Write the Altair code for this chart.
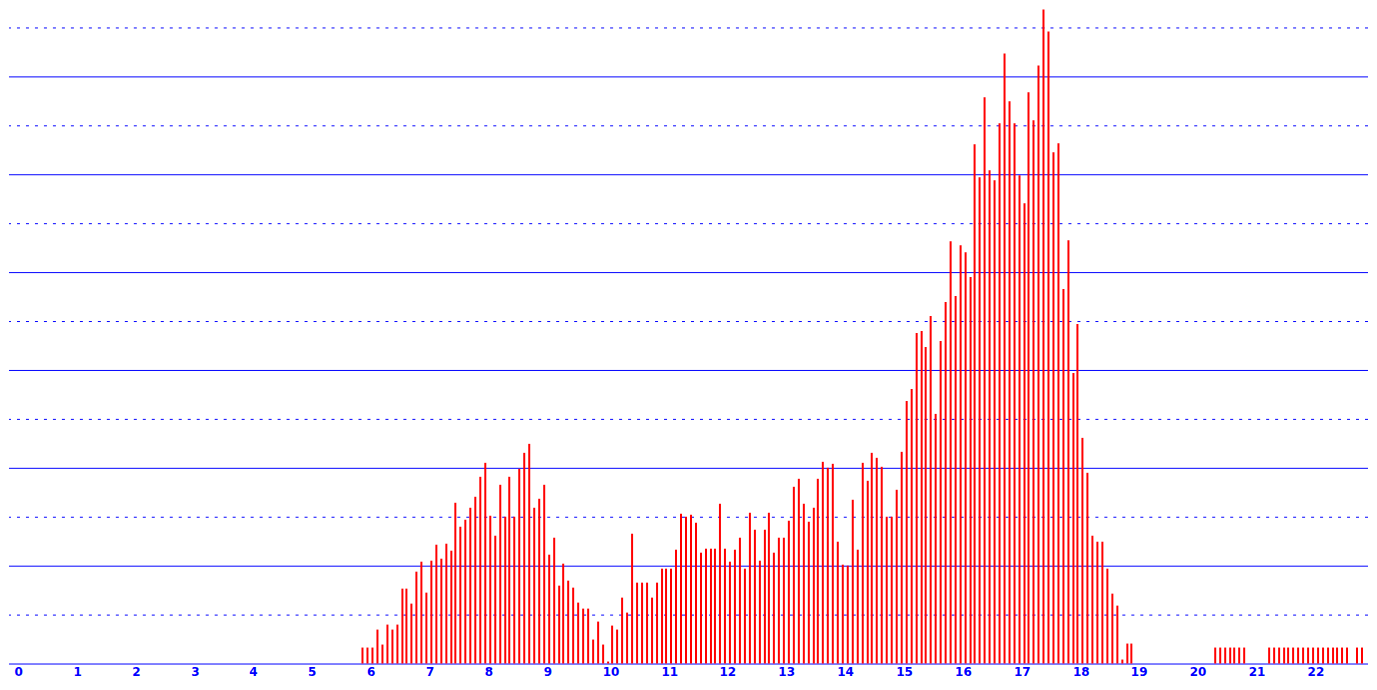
import altair as alt
import pandas as pd

# ---- data -------------------------------------------------------------
# contiguous run of 5-minute bins starting at 05:55
first_bar = "5:55"
bin_minutes = 5
day_values = [
    1.6, 1.6, 1.6, 3.5, 1.9, 4.0, 3.5, 4.0, 7.7, 7.7,
    6.1, 9.4, 10.4, 7.2, 10.5, 12.1, 10.7, 12.2, 11.5, 16.4,
    14.0, 14.7, 15.9, 17.0, 19.1, 20.5, 15.1, 13.1, 18.3, 15.0,
    19.1, 15.0, 19.9, 21.5, 22.4, 15.9, 16.8, 18.3, 11.1, 12.9,
    8.0, 10.2, 8.5, 7.8, 6.2, 5.6, 5.6, 2.5, 4.3, 1.9,
    0.2, 3.9, 3.5, 6.7, 5.2, 13.3, 8.3, 8.3, 8.3, 6.7,
    8.3, 9.7, 9.7, 9.7, 11.6, 15.3, 15.0, 15.2, 14.4, 11.3,
    11.7, 11.7, 11.7, 16.3, 11.7, 10.4, 11.6, 12.9, 9.7, 15.4,
    13.7, 10.5, 13.7, 15.4, 11.3, 12.9, 12.9, 14.6, 18.1, 18.9,
    16.3, 14.5, 15.9, 18.9, 20.6, 20.0, 20.4, 12.5, 10.1, 10.0,
    16.7, 11.6, 20.5, 18.7, 21.5, 21.0, 20.1, 15.0, 15.0, 17.8,
    21.6, 26.8, 28.1, 33.8, 34.0, 32.3, 35.5, 25.5, 33.0, 36.9,
    43.2, 37.6, 42.8, 42.0, 39.5, 53.1, 49.7, 57.9, 50.4, 49.4,
    55.2, 62.3, 57.4, 55.2, 49.9, 47.0, 58.4, 55.5, 61.1, 66.8,
    64.6, 52.2, 53.2, 38.3, 43.3, 29.7, 34.7, 23.1, 19.5, 13.1,
    12.4, 12.4, 9.7, 7.1, 5.9, 0.4, 2.0, 2.0,
]

# isolated evening bins
evening_times = [
    "20:25", "20:30", "20:35", "20:40", "20:45", "20:50", "20:55",
    "21:20", "21:25", "21:30", "21:35", "21:40", "21:45", "21:50", "21:55",
    "22:00", "22:05", "22:10", "22:15", "22:20", "22:25", "22:30", "22:35",
    "22:40", "22:50", "22:55",
]
evening_values = [
    1.6, 1.6, 1.6, 1.6, 1.6, 1.6, 1.6,
    1.6, 1.6, 1.6, 1.6, 1.6, 1.6, 1.6, 1.6,
    1.6, 1.6, 1.6, 1.6, 1.6, 1.6, 1.6, 1.6,
    1.6, 1.6, 1.6,
]

hour_ticks = list(range(0, 23))
solid_levels = [0, 10, 20, 30, 40, 50, 60]
dotted_levels = [5, 15, 25, 35, 45, 55, 65]


def to_minutes(t):
    h, m = t.split(":")
    return int(h) * 60 + int(m)


start = to_minutes(first_bar)
rows = [{"minute": start + i * bin_minutes, "value": v} for i, v in enumerate(day_values)]
rows += [{"minute": to_minutes(t), "value": v} for t, v in zip(evening_times, evening_values)]
bars_df = pd.DataFrame(rows)

BLUE = "#0000FF"
RED = "#FF0000"

xscale = alt.Scale(domain=[0, 1377], nice=False, zero=False, round=True)
yscale = alt.Scale(domain=[0, 66.94], nice=False, zero=True, round=True)

dotted = alt.Chart(pd.DataFrame({"level": dotted_levels})).mark_rule(
    color=BLUE, strokeWidth=1, strokeDash=[3, 6], yOffset=0.5
).encode(y=alt.Y("level:Q", scale=yscale, axis=None))

solid = alt.Chart(pd.DataFrame({"level": solid_levels})).mark_rule(
    color=BLUE, strokeWidth=1, yOffset=0.5
).encode(y=alt.Y("level:Q", scale=yscale, axis=None))

bars = alt.Chart(bars_df).transform_calculate(
    mid="datum.minute + 1"
).mark_bar(color=RED, width=2).encode(
    x=alt.X(
        "mid:Q",
        scale=xscale,
        axis=alt.Axis(
            values=[h * 60 for h in hour_ticks],
            labelExpr="datum.value / 60",
            ticks=False,
            domain=False,
            grid=False,
            labelColor=BLUE,
            labelFont="DejaVu Sans",
            labelFontSize=12,
            labelFontWeight="bold",
            labelAlign="left",
            labelBaseline="top",
            labelPadding=3,
            labelFlush=False,
            labelOverlap=False,
            title=None,
        ),
    ),
    y=alt.Y("value:Q", scale=yscale, axis=None),
)

chart = (
    alt.layer(dotted, solid, bars)
    .properties(width=1361, height=656, padding=0, background="white")
    .configure_view(stroke=None)
)

chart.save("out.html", embed_options={"renderer": "svg", "actions": False})
